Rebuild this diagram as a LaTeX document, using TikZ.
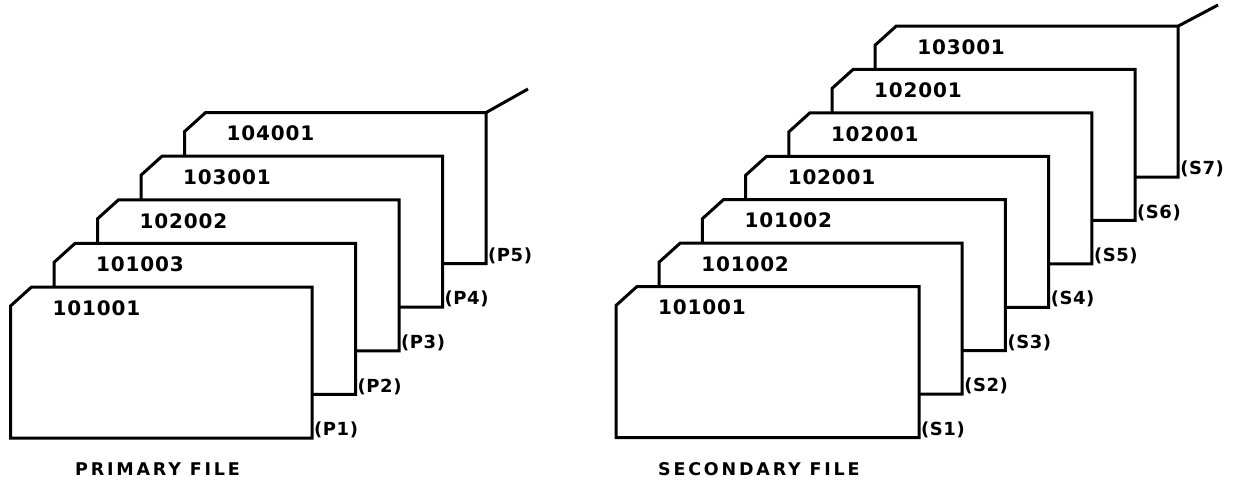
\documentclass[tikz,border=0pt]{standalone}
\usepackage{fontspec}
\newfontfamily\cardfont[LetterSpace=4]{DejaVu Sans Bold}
\newfontfamily\sidefont[LetterSpace=3]{DejaVu Sans Bold}
\newfontfamily\capfont[LetterSpace=16]{DejaVu Sans Bold}
\newcommand\drawcard[7]{%
  \path[cardline] (#2,#3+19) -- (#2+21,#3) -- (#2+#4,#3) -- (#2+#4,#3+#5) -- (#2,#3+#5) -- cycle;
  \node[cardtext] (#1t) at (#2+42,#3+21) {#6};
  \node[sidelabel] (#1l) at (#2+#4+2,#3+#5-8) {#7};
}
\begin{document}
\begin{tikzpicture}[x=1pt,y=-1pt,
  cardline/.style={draw=black, fill=white, line width=3pt, line join=miter, miter limit=4},
  tailline/.style={draw=black, line width=3pt},
  cardtext/.style={anchor=west, inner sep=0pt, font=\cardfont\fontsize{20}{20}\selectfont},
  sidelabel/.style={anchor=west, inner sep=0pt, font=\sidefont\fontsize{18}{18}\selectfont},
  caption/.style={anchor=west, inner sep=0pt, font=\capfont\fontsize{17.5}{17.5}\selectfont}]
\useasboundingbox (0,0) rectangle (1233,486);
% ---- primary file ----
\coordinate (ptail) at (528,89);
\drawcard{p5}{184.5}{112.6}{301.5}{151}{104001}{(P5)}
\draw[tailline] (486,112.6) -- (ptail);
\drawcard{p4}{141}{156.2}{301.5}{151}{103001}{(P4)}
\drawcard{p3}{97.5}{199.8}{301.5}{151}{102002}{(P3)}
\drawcard{p2}{54}{243.4}{301.5}{151}{101003}{(P2)}
\drawcard{p1}{10.5}{287}{301.5}{151}{101001}{(P1)}
\node[caption] (pcap) at (75,469) {PRIMARY FILE};
% ---- secondary file ----
\coordinate (stail) at (1218,5);
\drawcard{s7}{875.2}{26.1}{303}{151}{103001}{(S7)}
\draw[tailline] (1178.2,26.1) -- (stail);
\drawcard{s6}{832}{69.5}{303}{151}{102001}{(S6)}
\drawcard{s5}{788.8}{112.9}{303}{151}{102001}{(S5)}
\drawcard{s4}{745.6}{156.3}{303}{151}{102001}{(S4)}
\drawcard{s3}{702.4}{199.7}{303}{151}{101002}{(S3)}
\drawcard{s2}{659.2}{243.1}{303}{151}{101002}{(S2)}
\drawcard{s1}{616}{286.5}{303}{151}{101001}{(S1)}
\node[caption] (scap) at (658,469) {SECONDARY FILE};
\end{tikzpicture}
\end{document}
